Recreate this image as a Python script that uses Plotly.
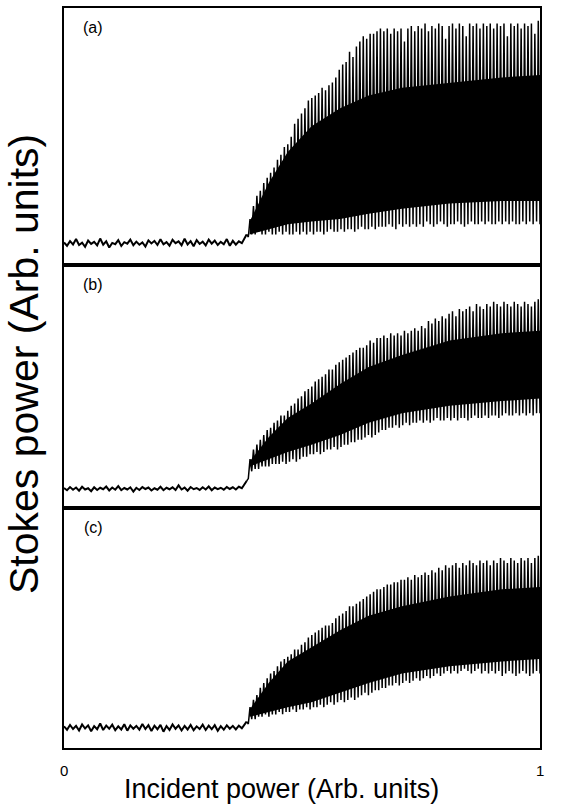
import numpy as np
import plotly.graph_objects as go
from plotly.subplots import make_subplots

# ---------------- data ----------------
panel_labels = ["(a)", "(b)", "(c)"]
tick_values = [0, 1]
tick_labels = ["0", "1"]
x_title = "Incident power (Arb. units)"
y_title = "Stokes power (Arb. units)"

threshold = 0.38  # incident power at which Stokes oscillation starts

# below-threshold noisy baseline (panel units 0..100)
noise_a = [8.9, 7.6, 9.4, 8.1, 10.2, 7.9, 8.8, 7.2, 9.6, 8.3, 9.1, 7.7, 10.4, 8.0, 9.3, 6.9, 8.7, 8.2, 9.8, 7.5,
           9.0, 8.4, 10.0, 7.8, 9.2, 8.0, 8.9, 7.3, 9.7, 8.5, 9.5, 7.9, 10.1, 8.2, 9.0, 7.6, 9.9, 8.6, 9.3, 7.8,
           10.3, 8.1, 9.4, 7.4, 9.8, 8.3, 9.2, 7.7, 10.0, 8.4, 9.6, 7.9, 9.1, 8.2, 10.2, 7.6, 9.5, 8.0, 9.3, 8.6]
noise_b = [8.1, 7.2, 8.5, 7.4, 8.3, 7.0, 8.6, 7.5, 8.0, 6.8, 8.4, 7.3, 8.2, 7.6, 8.7, 7.1, 8.3, 7.4, 8.9, 7.2,
           8.1, 7.5, 8.4, 6.6, 8.2, 7.3, 8.5, 7.7, 8.3, 7.1, 8.0, 7.4, 8.6, 7.2, 8.2, 7.6, 8.4, 7.3, 9.2, 7.5,
           8.3, 7.0, 8.5, 7.6, 8.1, 7.3, 8.4, 7.5, 8.7, 7.2, 8.3, 7.6, 8.2, 7.4, 8.5, 7.7, 8.4, 7.5, 8.6, 8.0]
noise_c = [9.0, 7.6, 9.6, 7.9, 9.2, 7.3, 9.8, 8.1, 9.4, 7.0, 9.1, 7.8, 10.2, 7.5, 9.3, 8.0, 9.7, 7.4, 9.0, 7.7,
           9.9, 7.2, 9.4, 8.0, 9.2, 7.6, 10.0, 7.9, 9.5, 7.1, 9.3, 7.8, 9.6, 6.8, 9.1, 7.5, 9.8, 8.0, 9.4, 7.3,
           9.2, 7.7, 9.6, 7.4, 9.0, 7.9, 9.7, 7.5, 9.3, 7.8, 9.5, 7.2, 9.1, 7.6, 9.4, 8.0, 9.2, 7.7, 9.3, 8.2]

# above threshold: per-cycle maxima and minima
peaks_a = [12, 18, 23, 27, 29, 32, 34, 36, 38, 41,
           43, 46, 47, 50, 55, 57, 59, 61, 64, 65,
           66, 67, 69, 68, 70, 71, 73, 76, 78, 79,
           83, 81, 85, 87, 89, 88, 90, 90, 91, 92,
           91, 92, 90, 92, 91, 92, 87, 92, 93, 91,
           93, 92, 94, 91, 93, 92, 94, 93, 88, 93,
           94, 92, 94, 93, 89, 94, 93, 94, 92, 94,
           93, 94, 92, 94, 93, 94, 89, 94, 93, 94,
           92, 94, 93, 94, 90, 95]
troughs_a = [11, 12, 12, 13, 12, 12, 13, 12, 12, 13,
             12, 13, 12, 12, 13, 12, 13, 12, 13, 12,
             13, 13, 12, 13, 14, 13, 13, 14, 13, 14,
             14, 13, 14, 15, 14, 14, 15, 14, 15, 15,
             15, 16, 15, 14, 16, 15, 16, 15, 16, 15,
             16, 15, 17, 16, 15, 16, 17, 16, 15, 16,
             16, 17, 16, 15, 16, 17, 16, 16, 17, 16,
             17, 16, 16, 17, 16, 17, 16, 17, 16, 16,
             17, 16, 17, 16, 17, 16]

peaks_b = [11, 20, 24, 26, 28, 30, 32, 33, 35, 36,
           38, 38, 40, 42, 43, 45, 46, 48, 49, 50,
           52, 53, 54, 55, 57, 57, 59, 60, 61, 62,
           63, 64, 65, 66, 66, 67, 69, 68, 70, 70,
           71, 70, 72, 71, 72, 71, 73, 72, 73, 74,
           73, 75, 74, 77, 76, 78, 77, 79, 78, 80,
           81, 79, 82, 81, 82, 83, 81, 84, 83, 82,
           84, 83, 85, 84, 83, 85, 84, 83, 85, 84,
           83, 85, 84, 83, 85, 86]
troughs_b = [12, 15, 16, 16, 17, 17, 17, 18, 18, 18,
             19, 18, 19, 20, 19, 20, 21, 21, 22, 22,
             23, 22, 23, 24, 24, 25, 24, 25, 26, 26,
             27, 27, 28, 28, 29, 30, 29, 30, 31, 32,
             32, 33, 33, 34, 33, 34, 35, 34, 35, 35,
             36, 35, 36, 35, 36, 37, 36, 36, 37, 36,
             37, 36, 37, 37, 36, 37, 38, 37, 37, 38,
             37, 38, 38, 37, 38, 39, 38, 38, 39, 38,
             39, 38, 39, 38, 39, 39]

peaks_c = [11, 17, 20, 22, 25, 27, 29, 31, 32, 34,
           36, 37, 38, 39, 41, 41, 43, 44, 46, 47,
           48, 49, 50, 51, 51, 52, 54, 55, 56, 57,
           59, 59, 60, 61, 62, 63, 64, 65, 66, 66,
           67, 68, 68, 69, 69, 70, 70, 71, 70, 72,
           71, 72, 73, 72, 74, 73, 75, 74, 76, 75,
           76, 77, 75, 77, 76, 78, 77, 76, 78, 77,
           78, 76, 78, 77, 79, 78, 77, 79, 78, 77,
           79, 78, 79, 77, 79, 80]
troughs_c = [10, 12, 12, 13, 13, 14, 13, 14, 14, 15,
             14, 15, 15, 16, 15, 16, 16, 17, 16, 17,
             17, 18, 17, 18, 19, 18, 19, 20, 19, 20,
             21, 20, 21, 22, 23, 22, 23, 24, 24, 25,
             25, 26, 26, 27, 26, 27, 28, 27, 28, 29,
             28, 29, 30, 29, 30, 31, 30, 31, 32, 31,
             32, 31, 32, 33, 32, 31, 32, 33, 31, 32,
             31, 32, 31, 32, 30, 31, 32, 31, 30, 31,
             32, 31, 30, 31, 32, 31]

# envelope of the solid (densely overlapped) part of the trace
body_x = [0.39, 0.43, 0.47, 0.52, 0.58, 0.64, 0.71, 0.81, 0.92, 1.0]
body_top_a = [17, 32, 44, 54, 61, 66, 69, 71, 73, 74]
body_bot_a = [12, 14, 16, 17, 18, 20, 22, 24, 25, 25]
body_top_b = [19, 29, 37, 43, 51, 58, 63, 69, 72, 73]
body_bot_b = [17, 20, 23, 26, 30, 35, 39, 42, 44, 45]
body_top_c = [16, 27, 36, 42, 49, 55, 59, 63, 66, 67]
body_bot_c = [13, 15, 17, 19, 23, 27, 31, 34, 36, 37]

panels = [
    (noise_a, peaks_a, troughs_a, body_top_a, body_bot_a),
    (noise_b, peaks_b, troughs_b, body_top_b, body_bot_b),
    (noise_c, peaks_c, troughs_c, body_top_c, body_bot_c),
]

# ---------------- figure ----------------
fig = make_subplots(rows=3, cols=1, shared_xaxes=True, vertical_spacing=0,
                    row_heights=[258, 243, 241])

for r, (noise, peaks, troughs, btop, bbot) in enumerate(panels, start=1):
    n = len(noise)
    xn = np.linspace(0, threshold, n, endpoint=False)
    N = len(peaks)
    yo = np.empty(2 * N)
    yo[0::2] = peaks
    yo[1::2] = troughs
    xo = threshold + (np.arange(2 * N) + 1) * (1 - threshold) / (2 * N)

    fig.add_trace(go.Scatter(x=body_x, y=bbot, mode="lines", line=dict(width=0, color="black"),
                             hoverinfo="skip", showlegend=False), row=r, col=1)
    fig.add_trace(go.Scatter(x=body_x, y=btop, mode="lines", line=dict(width=0, color="black"),
                             fill="tonexty", fillcolor="black", hoverinfo="skip", showlegend=False),
                  row=r, col=1)
    # noisy baseline (drawn a bit heavier, as in the scan)
    fig.add_trace(go.Scatter(x=np.append(xn, xo[0]), y=np.append(noise, yo[0]), mode="lines",
                             line=dict(width=2.0, color="black"), showlegend=False), row=r, col=1)
    # oscillating Stokes signal
    fig.add_trace(go.Scatter(x=xo, y=yo, mode="lines", line=dict(width=1.5, color="black"),
                             showlegend=False), row=r, col=1)

fig.update_xaxes(range=[0, 1], showline=True, mirror=True, linecolor="black", linewidth=2,
                 showticklabels=False, ticks="", showgrid=False, zeroline=False)
fig.update_yaxes(range=[0, 100], showline=True, mirror=True, linecolor="black", linewidth=2,
                 showticklabels=False, ticks="", showgrid=False, zeroline=False)

FONT = "Liberation Sans, Arial, Helvetica, sans-serif"
W, H = 564, 806
L, R, T, B = 64, 24, 6, 58
pw, ph = W - L - R, H - T - B

def px_to_paper(xp, yp):
    return (xp - L) / pw, (H - B - yp) / ph

annotations = []
for lab, ypx in zip(panel_labels, [26, 283, 527]):
    ax, ay = px_to_paper(93, ypx)
    annotations.append(dict(text=lab, x=ax, y=ay, xref="paper", yref="paper", showarrow=False,
                            xanchor="center", yanchor="middle", font=dict(size=16, color="black", family=FONT)))
for tv, tl in zip(tick_values, tick_labels):
    _, ay = px_to_paper(0, 771)
    annotations.append(dict(text=tl, x=tv, y=ay, xref="paper", yref="paper", showarrow=False,
                            xanchor="center", yanchor="middle", font=dict(size=15, color="black", family=FONT)))
ax, ay = px_to_paper(281, 789)
annotations.append(dict(text=x_title, x=ax, y=ay, xref="paper", yref="paper", showarrow=False,
                        xanchor="center", yanchor="middle", font=dict(size=27, color="black", family=FONT)))
ax, ay = px_to_paper(24, 363)
annotations.append(dict(text=y_title, x=ax, y=ay, xref="paper", yref="paper", showarrow=False, textangle=-90,
                        xanchor="center", yanchor="middle", font=dict(size=41, color="black", family=FONT)))

fig.update_layout(width=W, height=H, margin=dict(l=L, r=R, t=T, b=B),
                  paper_bgcolor="white", plot_bgcolor="white", annotations=annotations,
                  showlegend=False)

fig.write_html("out.html")
